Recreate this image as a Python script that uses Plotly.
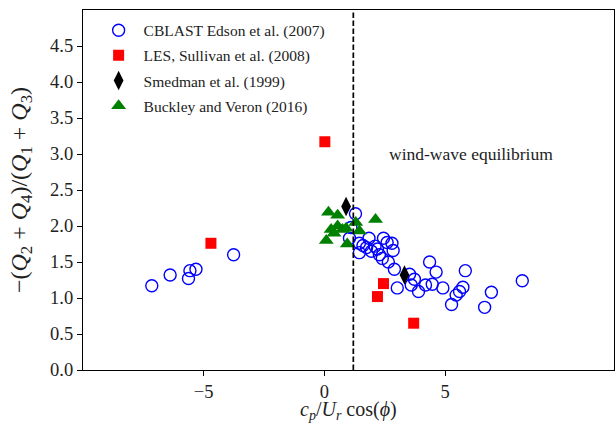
import plotly.graph_objects as go

# ---- data ----
cblast_x = [-7.15, -6.39, -5.63, -5.57, -5.32, -3.76,
            1.29, 1.10, 1.04,
            1.45, 1.60, 1.85, 1.75, 1.45, 1.95, 2.10, 2.45, 2.60, 2.80, 2.85,
            2.28, 2.40, 2.65, 2.90, 2.20,
            4.36, 4.63, 5.84, 8.20, 3.02, 3.53, 3.73, 3.60, 3.90, 4.19, 4.47,
            4.91, 5.74, 5.60, 5.46, 5.27, 6.92, 6.64]
cblast_y = [1.17, 1.32, 1.27, 1.38, 1.40, 1.60,
            2.17, 1.98, 1.83,
            1.76, 1.73, 1.83, 1.70, 1.63, 1.65, 1.72, 1.83, 1.77, 1.76, 1.66,
            1.60, 1.55, 1.50, 1.40, 1.68,
            1.50, 1.36, 1.38, 1.24, 1.14, 1.33, 1.26, 1.18, 1.09, 1.18, 1.19,
            1.14, 1.15, 1.09, 1.04, 0.91, 1.08, 0.87]

les_x = [-4.70, 0.02, 2.45, 2.20, 3.70]
les_y = [1.76, 3.17, 1.20, 1.02, 0.65]

smedman_x = [0.90, 3.32]
smedman_y = [2.27, 1.32]

buckley_x = [0.17, 0.55, 2.12, 0.28, 0.55, 0.90, 1.30, 1.45, 0.08, 0.95, 0.40, 0.75]
buckley_y = [2.19, 2.15, 2.09, 1.95, 2.00, 1.97, 2.05, 1.93, 1.80, 1.75, 1.90, 1.95]

EQUILIBRIUM_X = 1.2
y_ticks = [0.0, 0.5, 1.0, 1.5, 2.0, 2.5, 3.0, 3.5, 4.0, 4.5]
x_ticks = [-5, 0, 5]

FONT = "Liberation Serif"

fig = go.Figure()
fig.add_trace(go.Scatter(x=cblast_x, y=cblast_y, mode="markers",
                         name="CBLAST Edson et al. (2007)", legendgroup="a",
                         marker=dict(symbol="circle-open", size=12, color="#0000ff",
                                     line=dict(width=1.4, color="#0000ff"))))
fig.add_trace(go.Scatter(x=les_x, y=les_y, mode="markers",
                         name="LES, Sullivan et al. (2008)", legendgroup="b",
                         marker=dict(symbol="square", size=11, color="#ff0000")))
fig.add_trace(go.Scatter(x=smedman_x, y=smedman_y, mode="markers",
                         name="Smedman et al. (1999)", legendgroup="c",
                         marker=dict(symbol="diamond-tall", size=14, color="#000000")))
fig.add_trace(go.Scatter(x=buckley_x, y=buckley_y, mode="markers",
                         name="Buckley and Veron (2016)", legendgroup="d",
                         marker=dict(symbol="triangle-up", size=13, color="#008000")))

fig.add_shape(type="line", xref="x", yref="paper", x0=EQUILIBRIUM_X, x1=EQUILIBRIUM_X,
              y0=0, y1=1, line=dict(color="black", width=1.7, dash="5.5px,2.5px"))

fig.add_annotation(x=2.6, y=3.0, xref="x", yref="y", text="wind-wave equilibrium",
                   showarrow=False, xanchor="left", yanchor="middle",
                   font=dict(family=FONT, size=17.5, color="#222"))

# x-axis title as an annotation below the tick labels
fig.add_annotation(x=0.5, y=-0.112, xref="paper", yref="paper", showarrow=False,
                   text="<i>c</i><sub><i>p</i></sub>/<i>U</i><sub><i>r</i></sub> cos(<i>ϕ</i>)",
                   xanchor="center", yanchor="middle", borderpad=0,
                   font=dict(family=FONT, size=20, color="#222"))

axis_common = dict(showgrid=False, zeroline=False, showline=True, linecolor="black",
                   linewidth=1.2, mirror=True, ticks="outside", ticklen=5,
                   tickcolor="black", tickwidth=1.2, automargin=False,
                   tickfont=dict(family=FONT, size=18.5, color="#222"))

fig.update_layout(
    width=615, height=425,
    margin=dict(l=83, r=1, t=10, b=55),
    plot_bgcolor="white", paper_bgcolor="white",
    xaxis=dict(range=[-10, 12], tickvals=x_ticks, **axis_common),
    yaxis=dict(range=[0, 5], tickvals=y_ticks, ticktext=[f"{v:.1f}" for v in y_ticks],
               **axis_common,
               title=dict(text="−(<i>Q</i><sub>2</sub> + <i>Q</i><sub>4</sub>)/(<i>Q</i><sub>1</sub> + <i>Q</i><sub>3</sub>)",
                          font=dict(family=FONT, size=24, color="#222"))),
    legend=dict(x=0.02, y=0.99, xanchor="left", yanchor="top",
                bgcolor="rgba(255,255,255,0)", borderwidth=0,
                font=dict(family=FONT, size=15.5, color="#222"), itemwidth=40,
                tracegroupgap=2),
    showlegend=True,
)

fig.write_html("out.html")
